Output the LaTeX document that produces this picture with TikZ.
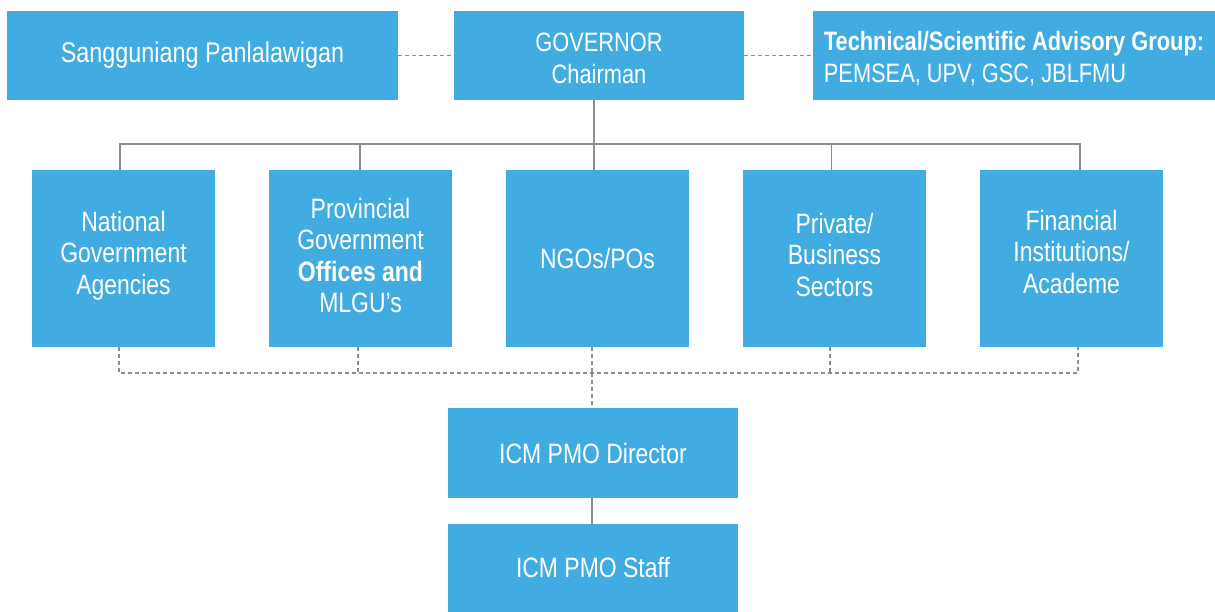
\documentclass[tikz,border=0pt]{standalone}
\usepackage{fontspec}
\setmainfont[FakeStretch=0.82]{Liberation Sans}
\definecolor{boxblue}{RGB}{65,172,225}
\definecolor{linegray}{RGB}{140,140,140}
\tikzset{
  boxtext/.style={text=white, align=center, inner sep=0pt, font=\fontsize{28}{31.5}\selectfont},
  orgbox/.style={rectangle, fill=boxblue, boxtext},
  smalltext/.style={font=\fontsize{26.6}{31.5}\selectfont},
  solidline/.style={draw=linegray, line width=1.3pt},
  dashline/.style={draw=linegray, line width=1.3pt, dash pattern=on 4pt off 3pt}
}
\begin{document}
\begin{tikzpicture}[x=1pt,y=-1pt]
\useasboundingbox (0,0) rectangle (1215,612);
% top row
\node[orgbox, minimum width=391pt, minimum height=89pt, font=\fontsize{28.5}{31.5}\selectfont] (sp) at (202.5,55.5) {Sangguniang Panlalawigan};
\node[orgbox, minimum width=290pt, minimum height=89pt,
  label={[boxtext, smalltext, yshift=-3pt]center:{GOVERNOR\\Chairman}}] (gov) at (599,55.5) {};
\node[orgbox, minimum width=402pt, minimum height=89pt,
  label={[boxtext, smalltext, align=left, yshift=-3pt]center:{\textbf{Technical/Scientific Advisory Group:}\\PEMSEA, UPV, GSC, JBLFMU}}] (tech) at (1014,55.5) {};
% middle row
\node[orgbox, minimum width=183pt, minimum height=177pt,
  label={[boxtext, yshift=3pt]center:{National\\Government\\Agencies}}] (na) at (123.5,258.5) {};
\node[orgbox, minimum width=183pt, minimum height=177pt,
  label={[boxtext, yshift=3pt]center:{Provincial\\Government\\\textbf{Offices and}\\MLGU’s}}] (pg) at (360.5,258.5) {};
\node[orgbox, minimum width=183pt, minimum height=177pt] (ng) at (597.5,258.5) {NGOs/POs};
\node[orgbox, minimum width=183pt, minimum height=177pt,
  label={[boxtext, yshift=4pt]center:{Private/\\Business\\Sectors}}] (ps) at (834.5,258.5) {};
\node[orgbox, minimum width=183pt, minimum height=177pt,
  label={[boxtext, yshift=7pt]center:{Financial\\Institutions/\\Academe}}] (fi) at (1071.5,258.5) {};
% bottom
\node[orgbox, minimum width=290pt, minimum height=90pt] (dir) at (593,453) {ICM PMO Director};
\node[orgbox, minimum width=290pt, minimum height=88pt] (staff) at (593,568) {ICM PMO Staff};
% connectors top
\draw[dashline] (sp.east) -- (gov.west);
\draw[dashline] (gov.east) -- (tech.west);
\coordinate (bus) at (594,144);
\draw[solidline] ([xshift=-5pt]gov.south) -- ([xshift=-5pt]gov.south |- bus);
\draw[solidline] ([xshift=-3.5pt]na.north) |- (bus) -| ([xshift=8.5pt]fi.north);
\draw[solidline] ([xshift=-0.5pt]pg.north) -- ([xshift=-0.5pt]pg.north |- bus);
\draw[solidline] ([xshift=-3.5pt]ng.north) -- ([xshift=-3.5pt]ng.north |- bus);
\draw[solidline] ([xshift=-3pt]ps.north) -- ([xshift=-3pt]ps.north |- bus);
% connectors bottom
\coordinate (dbus) at (592,373);
\draw[dashline] ([xshift=-4.5pt]na.south) |- (dbus) -| ([xshift=6.5pt]fi.south);
\draw[dashline] ([xshift=-2.5pt]pg.south) -- ([xshift=-2.5pt]pg.south |- dbus);
\draw[dashline] ([xshift=-5.5pt]ng.south) -- ([xshift=-5.5pt]ng.south |- dbus);
\draw[dashline] ([xshift=-4.5pt]ps.south) -- ([xshift=-4.5pt]ps.south |- dbus);
\draw[dashline] (dbus) -- (dbus |- dir.north);
\draw[solidline] ([xshift=-1pt]dir.south) -- ([xshift=-1pt]staff.north);
\end{tikzpicture}
\end{document}
